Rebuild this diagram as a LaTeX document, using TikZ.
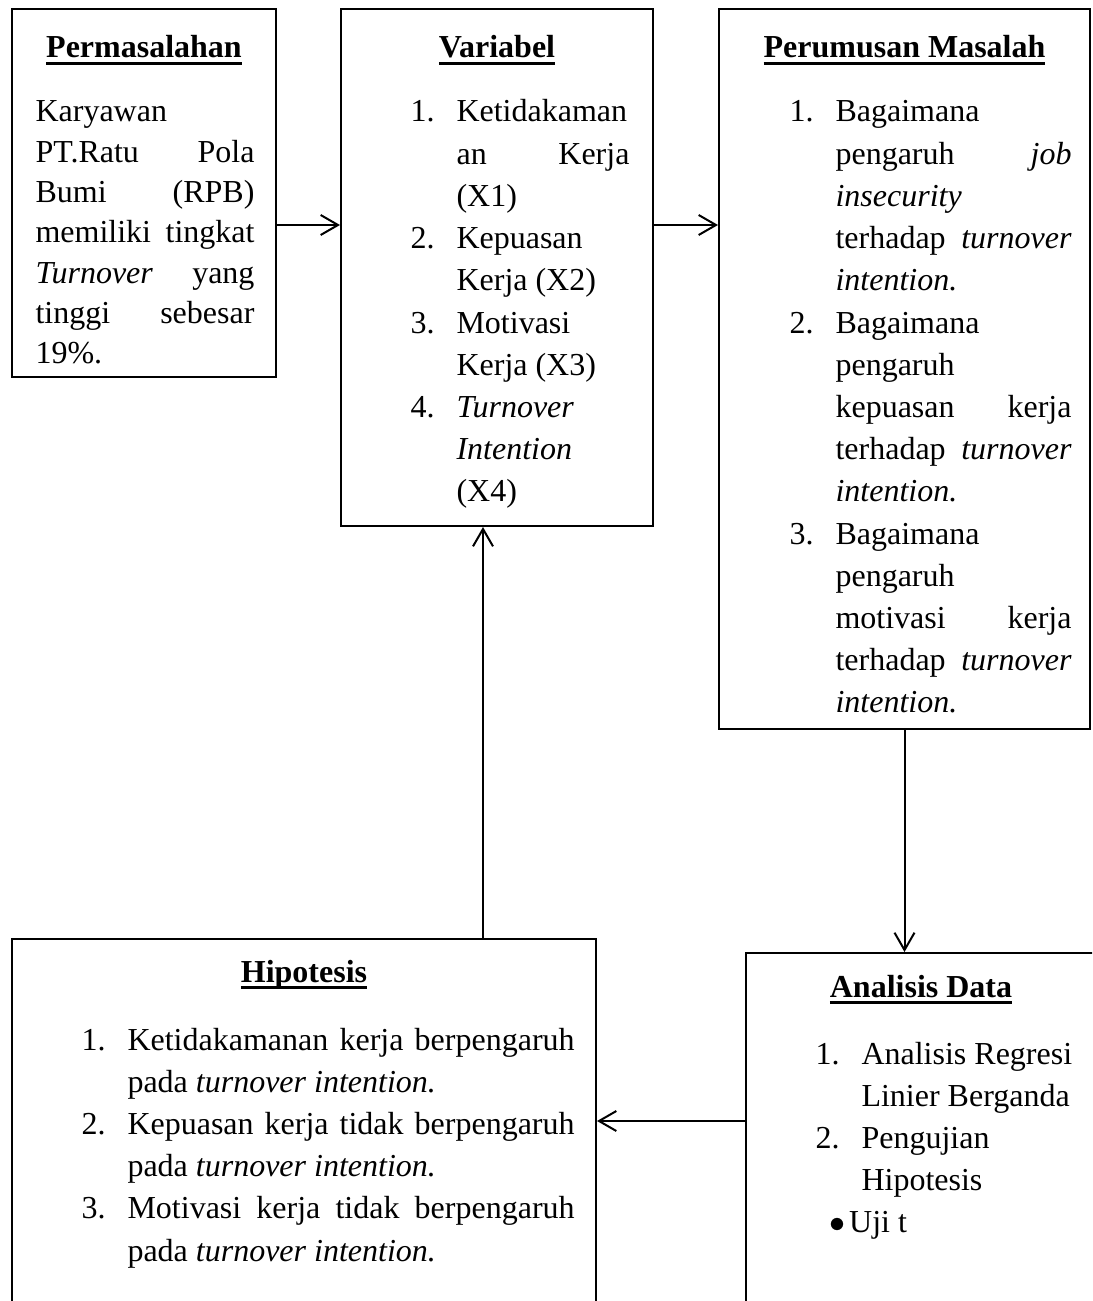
\documentclass[tikz,border=0pt]{standalone}
\usepackage{fontspec}
\setmainfont{Liberation Serif}
\usetikzlibrary{arrows.meta, positioning, calc, fit}

\newlength{\numw}\setlength{\numw}{17.25pt}
\newcommand{\boxtitle}[1]{\setbox0\hbox{\bfseries #1}\rlap{\rule[-2.6pt]{\wd0}{1.1pt}}\box0}
\newcommand{\jl}[1]{\makebox[\linewidth][s]{#1}}
\newcommand{\ji}[1]{\makebox[\dimexpr\linewidth-\numw\relax][s]{#1}}
\newcommand{\numitem}[2]{\par\hangindent\numw\hangafter1\noindent\makebox[\numw][l]{#1}#2\par}

\begin{document}
\begin{tikzpicture}[x=0.375pt,y=-0.375pt,
  font=\fontsize{12pt}{15.83pt}\selectfont,
  box/.style={draw, line width=0.75pt, inner sep=0pt},
  arr/.style={-{Straight Barb[length=6.5pt,width=7.5pt]}, line width=0.75pt},
  ttl/.style={anchor=base, inner sep=0pt},
  body/.style={anchor=base west, inner sep=0pt}]
\useasboundingbox (0,0) rectangle (1092,1301);
\clip (0,0) rectangle (1092,1301);

\node[box, fit={(12,9) (276,377)}] (masalah) {};
\node[box, fit={(341,9) (653,526)}] (variabel) {};
\node[box, fit={(719,9) (1090,729)}] (rumusan) {};
\node[box, fit={(12,939) (596,1320)}] (hipotesis) {};
\node[box, fit={(746,953) (1096,1320)}] (analisis) {};

\node[ttl] (masalah-t) at ($(masalah.north)+(0,50)$) {\boxtitle{Permasalahan}};
\node[ttl] (variabel-t) at ($(variabel.north)+(0,50)$) {\boxtitle{Variabel}};
\node[ttl] (rumusan-t) at ($(rumusan.north)+(0,50)$) {\boxtitle{Perumusan Masalah}};
\node[ttl] (hipotesis-t) at ($(hipotesis.north)+(0,44)$) {\boxtitle{Hipotesis}};
\node[ttl] (analisis-t) at ($(analisis.north)+(0,45)$) {\boxtitle{Analisis Data}};

\node[body, font=\fontsize{12pt}{15.1pt}\selectfont] (masalah-b) at ($(masalah.north west)+(24,114)$) {\parbox[t]{82.1pt}{%
  Karyawan\\ \jl{PT.Ratu Pola}\\ \jl{Bumi (RPB)}\\ \jl{memiliki tingkat}\\
  \jl{\textit{Turnover} yang}\\ \jl{tinggi sebesar}\\ 19\%.}};
\node[body] (variabel-b) at ($(variabel.north west)+(70,114)$) {\parbox[t]{82.1pt}{%
  \numitem{1.}{Ketidakaman\\ \ji{an Kerja}\\ (X1)}
  \numitem{2.}{Kepuasan\\ Kerja (X2)}
  \numitem{3.}{Motivasi\\ Kerja (X3)}
  \numitem{4.}{\textit{Turnover}\\ \textit{Intention}\\ (X4)}}};
\node[body] (rumusan-b) at ($(rumusan.north west)+(71,114)$) {\parbox[t]{105.75pt}{%
  \numitem{1.}{Bagaimana\\ \ji{pengaruh \textit{job}}\\ \textit{insecurity}\\
    \ji{terhadap \textit{turnover}}\\ \textit{intention.}}
  \numitem{2.}{Bagaimana\\ pengaruh\\ \ji{kepuasan kerja}\\
    \ji{terhadap \textit{turnover}}\\ \textit{intention.}}
  \numitem{3.}{Bagaimana\\ pengaruh\\ \ji{motivasi kerja}\\
    \ji{terhadap \textit{turnover}}\\ \textit{intention.}}}};
\node[body] (hipotesis-b) at ($(hipotesis.north west)+(70,112)$) {\parbox[t]{184.9pt}{%
  \numitem{1.}{\ji{Ketidakamanan kerja berpengaruh}\\ pada \textit{turnover intention.}}
  \numitem{2.}{\ji{Kepuasan kerja tidak berpengaruh}\\ pada \textit{turnover intention.}}
  \numitem{3.}{\ji{Motivasi kerja tidak berpengaruh}\\ pada \textit{turnover intention.}}}};
\node[body] (analisis-b) at ($(analisis.north west)+(70,112)$) {\parbox[t]{99pt}{%
  \numitem{1.}{Analisis Regresi\\ Linier Berganda}
  \numitem{2.}{Pengujian\\ Hipotesis}
  \noindent\hspace*{5.4pt}$\bullet$\hspace{1.2pt}Uji t}};

\coordinate (rowA) at (0,225);
\coordinate (rowD) at (0,1121);
\coordinate (colC) at (483,0);
\draw[arr] (masalah.east |- rowA) -- (variabel.west |- rowA);
\draw[arr] (variabel.east |- rowA) -- (rumusan.west |- rowA);
\draw[arr] (rumusan.south) -- (rumusan.south |- analisis.north);
\draw[arr] (analisis.west |- rowD) -- (hipotesis.east |- rowD);
\draw[arr] (hipotesis.north -| colC) -- (variabel.south -| colC);
\end{tikzpicture}
\end{document}
